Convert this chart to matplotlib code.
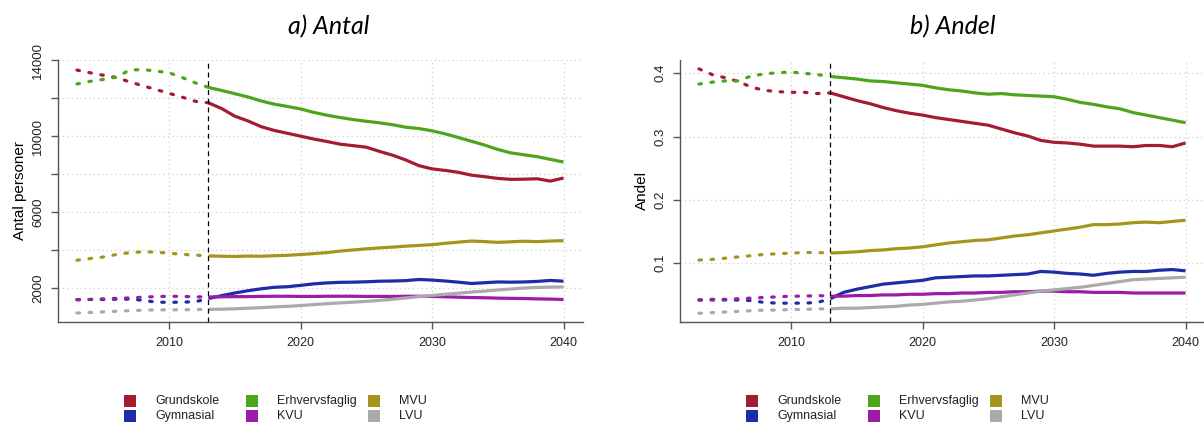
import matplotlib
matplotlib.use("Agg")
import matplotlib.pyplot as plt
from matplotlib.patches import Rectangle

plt.rcParams['font.family'] = ['Liberation Sans', 'DejaVu Sans']

# years
hist_years = list(range(2003, 2014))
proj_years = list(range(2013, 2041))

groups = ["Grundskole", "Gymnasial", "Erhvervsfaglig", "KVU", "MVU", "LVU"]
colors = ["#A51C30", "#1C2DA6", "#4EA51C", "#9B1CA6", "#A6951C", "#AAAAAA"]

# a) Antal - historic (dashed) 2003-2013
antal_hist = {
    "Grundskole":     [13470, 13330, 13200, 13080, 12850, 12650, 12450, 12250, 12050, 11830, 11750],
    "Gymnasial":      [1410, 1420, 1420, 1430, 1440, 1380, 1280, 1270, 1280, 1300, 1470],
    "Erhvervsfaglig": [12740, 12880, 12980, 13100, 13470, 13500, 13420, 13330, 13080, 12800, 12560],
    "KVU":            [1410, 1420, 1450, 1480, 1500, 1540, 1570, 1590, 1580, 1560, 1550],
    "MVU":            [3480, 3570, 3650, 3780, 3880, 3920, 3910, 3850, 3790, 3750, 3710],
    "LVU":            [710, 740, 770, 800, 830, 860, 870, 880, 880, 890, 900],
}
# a) Antal - projection (solid) 2013-2040
antal_proj = {
    "Grundskole":     [11750, 11450, 11050, 10800, 10500, 10300, 10150, 10000, 9850, 9720, 9580, 9500, 9420, 9200,
                       9000, 8750, 8450, 8280, 8200, 8100, 7950, 7870, 7780, 7730, 7740, 7760, 7640, 7800],
    "Gymnasial":      [1470, 1620, 1760, 1880, 1980, 2060, 2090, 2160, 2240, 2290, 2320, 2330, 2350, 2380,
                       2390, 2410, 2470, 2440, 2390, 2330, 2260, 2300, 2340, 2330, 2340, 2370, 2420, 2380],
    "Erhvervsfaglig": [12560, 12400, 12230, 12060, 11850, 11680, 11560, 11430, 11250, 11100, 10980, 10870, 10780, 10700,
                       10600, 10470, 10400, 10280, 10120, 9930, 9730, 9530, 9300, 9120, 9020, 8920, 8780, 8640],
    "KVU":            [1550, 1560, 1570, 1570, 1580, 1590, 1590, 1580, 1580, 1590, 1590, 1590, 1580, 1580,
                       1580, 1590, 1590, 1580, 1560, 1540, 1520, 1510, 1490, 1480, 1470, 1450, 1440, 1420],
    "MVU":            [3710, 3690, 3680, 3700, 3690, 3720, 3740, 3780, 3830, 3880, 3960, 4020, 4080, 4130,
                       4170, 4220, 4260, 4300, 4370, 4430, 4490, 4460, 4420, 4450, 4480, 4460, 4490, 4510],
    "LVU":            [900, 910, 930, 960, 990, 1030, 1060, 1100, 1150, 1200, 1240, 1280, 1320, 1370,
                       1430, 1500, 1570, 1630, 1690, 1750, 1810, 1860, 1920, 1970, 2020, 2050, 2070, 2080],
}

# b) Andel - historic
andel_hist = {
    "Grundskole":     [0.407, 0.398, 0.393, 0.387, 0.378, 0.373, 0.371, 0.370, 0.370, 0.368, 0.369],
    "Gymnasial":      [0.042, 0.042, 0.042, 0.042, 0.041, 0.038, 0.037, 0.037, 0.037, 0.038, 0.044],
    "Erhvervsfaglig": [0.383, 0.386, 0.388, 0.388, 0.396, 0.399, 0.401, 0.402, 0.400, 0.398, 0.395],
    "KVU":            [0.042, 0.043, 0.043, 0.044, 0.045, 0.046, 0.047, 0.048, 0.048, 0.049, 0.048],
    "MVU":            [0.105, 0.106, 0.108, 0.110, 0.112, 0.114, 0.115, 0.116, 0.117, 0.117, 0.116],
    "LVU":            [0.021, 0.022, 0.023, 0.024, 0.025, 0.026, 0.026, 0.027, 0.027, 0.028, 0.028],
}
# b) Andel - projection
andel_proj = {
    "Grundskole":     [0.369, 0.363, 0.357, 0.352, 0.346, 0.341, 0.337, 0.334, 0.330, 0.327, 0.324, 0.321, 0.318, 0.312,
                       0.306, 0.301, 0.294, 0.291, 0.290, 0.288, 0.285, 0.285, 0.285, 0.284, 0.286, 0.286, 0.284, 0.290],
    "Gymnasial":      [0.044, 0.054, 0.059, 0.063, 0.067, 0.069, 0.071, 0.073, 0.077, 0.078, 0.079, 0.080, 0.080, 0.081,
                       0.082, 0.083, 0.087, 0.086, 0.084, 0.083, 0.081, 0.084, 0.086, 0.087, 0.087, 0.089, 0.090, 0.088],
    "Erhvervsfaglig": [0.395, 0.393, 0.391, 0.388, 0.387, 0.385, 0.383, 0.381, 0.377, 0.374, 0.372, 0.369, 0.367, 0.368,
                       0.366, 0.365, 0.364, 0.363, 0.359, 0.354, 0.351, 0.347, 0.344, 0.338, 0.334, 0.330, 0.326, 0.322],
    "KVU":            [0.048, 0.048, 0.049, 0.049, 0.050, 0.050, 0.051, 0.051, 0.052, 0.052, 0.053, 0.053, 0.054, 0.054,
                       0.055, 0.055, 0.056, 0.056, 0.055, 0.055, 0.054, 0.054, 0.054, 0.053, 0.053, 0.053, 0.053, 0.053],
    "MVU":            [0.116, 0.117, 0.118, 0.120, 0.121, 0.123, 0.124, 0.126, 0.129, 0.132, 0.134, 0.136, 0.137, 0.140,
                       0.143, 0.145, 0.148, 0.151, 0.154, 0.157, 0.161, 0.161, 0.162, 0.164, 0.165, 0.164, 0.166, 0.168],
    "LVU":            [0.028, 0.029, 0.029, 0.030, 0.031, 0.032, 0.034, 0.035, 0.037, 0.039, 0.040, 0.042, 0.044, 0.047,
                       0.050, 0.053, 0.056, 0.058, 0.060, 0.062, 0.065, 0.068, 0.071, 0.074, 0.075, 0.076, 0.077, 0.078],
}

x_ticks = [2010, 2020, 2030, 2040]
antal_ticks = [2000, 4000, 6000, 8000, 10000, 12000, 14000]
antal_labels = ["2000", "", "6000", "", "10000", "", "14000"]
andel_ticks = [0.1, 0.2, 0.3, 0.4]
andel_labels = ["0.1", "0.2", "0.3", "0.4"]

W, H = 1204, 423
fig = plt.figure(figsize=(W / 100, H / 100), dpi=100, facecolor='white')


def panel(left_px, hist, proj, yticks, ylabels, ylim, ylabel):
    ax = fig.add_axes([left_px / W, 1 - 321.5 / H, 525 / W, 261.5 / H])
    ax.set_xlim(2001.56, 2041.48)
    ax.set_ylim(*ylim)
    for sp in ["top", "right"]:
        ax.spines[sp].set_visible(False)
    for sp in ["left", "bottom"]:
        ax.spines[sp].set_color("#555555")
        ax.spines[sp].set_linewidth(1.0)
    ax.set_xticks(x_ticks)
    ax.set_xticklabels([str(t) for t in x_ticks], fontsize=9, color="#222222")
    ax.set_yticks(yticks)
    ax.set_yticklabels(ylabels, fontsize=9.5, rotation=90, va="center", color="#222222")
    ax.tick_params(axis="both", length=5, width=1, color="#555555")
    ax.tick_params(axis="x", pad=6)
    ax.tick_params(axis="y", pad=5)
    ax.grid(True, color="#cfcfcf", linestyle=(0, (1, 2.5)), linewidth=0.9)
    ax.set_axisbelow(True)
    ax.set_ylabel(ylabel, fontsize=11, labelpad=4)
    for g, c in zip(groups, colors):
        ax.plot(hist_years, hist[g], color=c, lw=2.3, ls=(0, (0.8, 3.0)), dash_capstyle="round")
        ax.plot(proj_years, proj[g], color=c, lw=2.3, solid_capstyle="butt")
    ax.axvline(2013, color="black", lw=0.9, ls=(0, (4, 3)))
    return ax


ax1 = panel(58, antal_hist, antal_proj, antal_ticks, antal_labels, (263, 14000), "Antal personer")
ax2 = panel(680, andel_hist, andel_proj, andel_ticks, andel_labels, (0.008, 0.421), "Andel")

title_kw = dict(fontsize=18, style="italic", family=["Lato", "DejaVu Sans"], ha="center", va="center")
fig.text(329 / W, 1 - 27 / H, "a) Antal", **title_kw)
fig.text(953 / W, 1 - 27 / H, "b) Andel", **title_kw)

# legends (R style, 3 equal-width columns)
for x0 in (124, 746):
    for k in range(len(groups)):
        col, row = k // 2, k % 2
        sx = x0 + col * 122
        sy = 400.5 + row * 15.5
        fig.patches.append(Rectangle((sx / W, 1 - (sy + 6) / H), 12 / W, 12 / H,
                                     transform=fig.transFigure, facecolor=colors[k], edgecolor="none"))
        fig.text((sx + 31) / W, 1 - sy / H, groups[k], fontsize=9, va="center", ha="left", color="#222222")

fig.savefig("out.png", dpi=100)
